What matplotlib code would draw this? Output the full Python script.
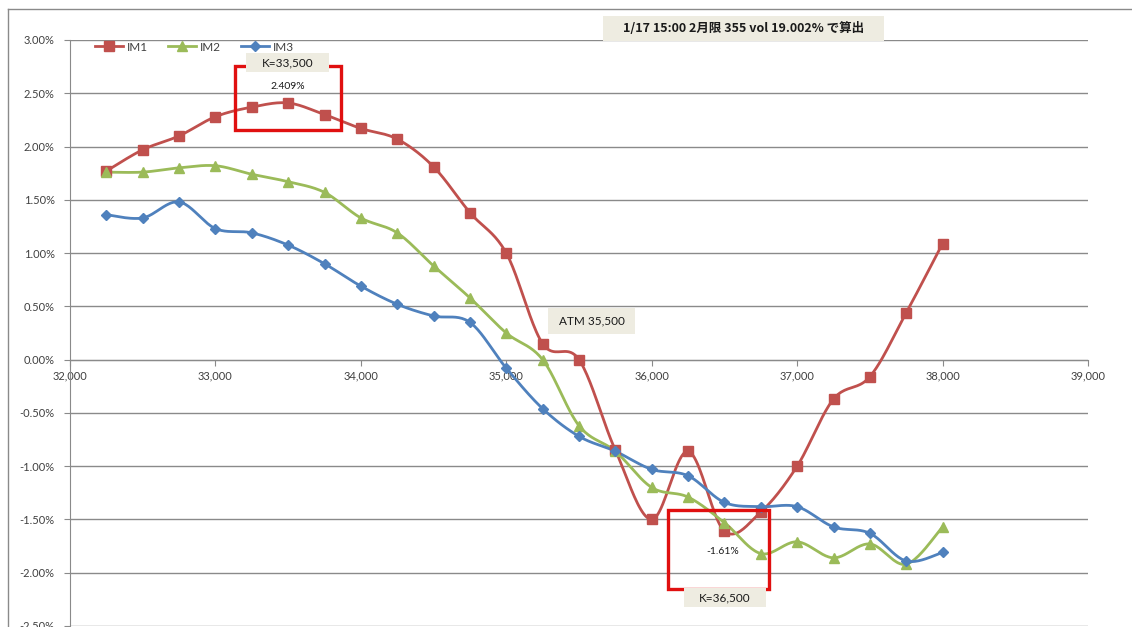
import numpy as np
import matplotlib.pyplot as plt
from matplotlib.lines import Line2D
from matplotlib.patches import Rectangle

# Strike prices and the three series (percent)
strikes = [32250, 32500, 32750, 33000, 33250, 33500, 33750, 34000,
           34250, 34500, 34750, 35000, 35250, 35500, 35750, 36000,
           36250, 36500, 36750, 37000, 37250, 37500, 37750, 38000]
im1 = [1.77, 1.97, 2.10, 2.28, 2.37, 2.409, 2.30, 2.17, 2.07, 1.81, 1.38, 1.00,
       0.15, 0.00, -0.85, -1.50, -0.86, -1.61, -1.43, -1.00, -0.37, -0.16, 0.44, 1.09]
im2 = [1.76, 1.76, 1.80, 1.82, 1.74, 1.67, 1.57, 1.33, 1.19, 0.88, 0.58, 0.25,
       0.00, -0.62, -0.86, -1.20, -1.29, -1.53, -1.82, -1.71, -1.86, -1.73, -1.92, -1.57]
im3 = [1.36, 1.33, 1.48, 1.23, 1.19, 1.075, 0.90, 0.69, 0.52, 0.41, 0.35, -0.08,
       -0.46, -0.72, -0.86, -1.03, -1.09, -1.34, -1.38, -1.38, -1.57, -1.63, -1.89, -1.81]
series_names = ['IM1', 'IM2', 'IM3']

x_ticks = [32000, 33000, 34000, 35000, 36000, 37000, 38000, 39000]
y_ticks = [3.0, 2.5, 2.0, 1.5, 1.0, 0.5, 0.0, -0.5, -1.0, -1.5, -2.0, -2.5]

title_text = '1/17 15:00 2月限 355 vol 19.002% で算出'

W, H = 1132, 627


def px(x, y):
    # pixel position -> figure fraction
    return x / W, 1 - y / H


def smooth(x, y, n=24):
    # Bezier through the points, Catmull-Rom style control points
    p = np.column_stack([x, y]).astype(float)
    out = []
    for i in range(len(p) - 1):
        p0 = p[i - 1] if i > 0 else p[i]
        p1, p2 = p[i], p[i + 1]
        p3 = p[i + 2] if i + 2 < len(p) else p[i + 1]
        c1 = p1 + (p2 - p0) / 6
        c2 = p2 - (p3 - p1) / 6
        t = np.linspace(0, 1, n)[:, None]
        seg = ((1 - t) ** 3) * p1 + 3 * ((1 - t) ** 2) * t * c1 + 3 * (1 - t) * t ** 2 * c2 + t ** 3 * p2
        out.append(seg if i == 0 else seg[1:])
    s = np.vstack(out)
    return s[:, 0], s[:, 1]


fig = plt.figure(figsize=(W / 100, H / 100), dpi=100)
fig.patch.set_facecolor('white')

l, b = px(70, 626)
r, t = px(1088, 40)
ax = fig.add_axes([l, b, r - l, t - b])
ax.set_xlim(32000, 39000)
ax.set_ylim(-2.5, 3.0)

grid_c = '#8a8a8a'
for sp in ['top', 'right']:
    ax.spines[sp].set_visible(False)
ax.spines['left'].set_color(grid_c)
ax.spines['bottom'].set_color(grid_c)
ax.spines['bottom'].set_position(('data', 0))

ax.set_xticks(x_ticks)
ax.set_xticklabels([f'{v:,}' for v in x_ticks])
ax.set_yticks(y_ticks)
ax.set_yticklabels([f'{v:.2f}%' for v in y_ticks])
ax.tick_params(axis='both', direction='out', length=4, color=grid_c,
               labelsize=8, labelcolor='#404040')
ax.tick_params(axis='x', pad=4)
ax.tick_params(axis='y', pad=7)
for lab in ax.get_xticklabels() + ax.get_yticklabels():
    lab.set_fontfamily('Lato')
ax.yaxis.grid(True, color=grid_c, lw=1)
ax.set_axisbelow(True)

styles = [('#C0504D', 's', 7.0), ('#9BBB59', '^', 7.5), ('#4F81BD', 'D', 5.0)]
handles = []
for vals, name, (c, m, ms) in zip([im1, im2, im3], series_names, styles):
    sx, sy = smooth(strikes, vals)
    ax.plot(sx, sy, color=c, lw=2.0, zorder=3)
    ax.plot(strikes, vals, ls='none', marker=m, ms=ms, color=c, zorder=4)
    handles.append(Line2D([], [], color=c, lw=2.0, marker=m, ms=ms))

leg = fig.legend(handles, series_names, loc='upper left', bbox_to_anchor=px(84, 31),
                 ncol=3, frameon=False, handlelength=2.4, handletextpad=0.3,
                 columnspacing=1.7, prop={'family': 'Lato', 'size': 8.5})
for txt in leg.get_texts():
    txt.set_color('#404040')

# outer chart frame
fig.add_artist(Line2D([8 / W, 1], [1 - 9 / H] * 2, color=grid_c, lw=1))
fig.add_artist(Line2D([8 / W] * 2, [0, 1 - 9 / H], color=grid_c, lw=1))

label_bg = '#EEECE1'


def label_box(x0, y0, x1, y1, text, **kw):
    fx0, fy1 = px(x0, y0)
    fx1, fy0 = px(x1, y1)
    fig.add_artist(Rectangle((fx0, fy0), fx1 - fx0, fy1 - fy0, transform=fig.transFigure,
                             facecolor=label_bg, edgecolor='none', zorder=6))
    fig.text((fx0 + fx1) / 2, (fy0 + fy1) / 2, text, ha='center', va='center',
             color='#1a1a1a', zorder=7, **kw)


def red_box(x0, y0, x1, y1):
    fx0, fy1 = px(x0, y0)
    fx1, fy0 = px(x1, y1)
    fig.add_artist(Rectangle((fx0, fy0), fx1 - fx0, fy1 - fy0, transform=fig.transFigure,
                             facecolor='none', edgecolor='#E01010', lw=2.4, zorder=5))


# highlighted strikes
red_box(235, 66, 341, 130)
label_box(246, 53, 329, 72, 'K=33,500', family='Lato', size=8.5)
ax.text(strikes[5], im1[5] + 0.15, f'{im1[5]:.3f}%', ha='center', va='center',
        family='Lato', size=7.5, color='#1a1a1a')

red_box(668, 510, 769, 589)
label_box(684, 588, 766, 607, 'K=36,500', family='Lato', size=8.5)
ax.text(strikes[17] - 10, im1[17] - 0.19, f'{im1[17]:.2f}%', ha='center', va='center',
        family='Lato', size=7.5, color='#1a1a1a')

label_box(548, 308, 635, 334, 'ATM 35,500', family='Lato', size=8.5)

label_box(603, 16, 884, 41, title_text, family=['Noto Sans CJK JP', 'DejaVu Sans'],
          size=9, weight='bold')

fig.savefig('out.png', dpi=100, facecolor='white')
